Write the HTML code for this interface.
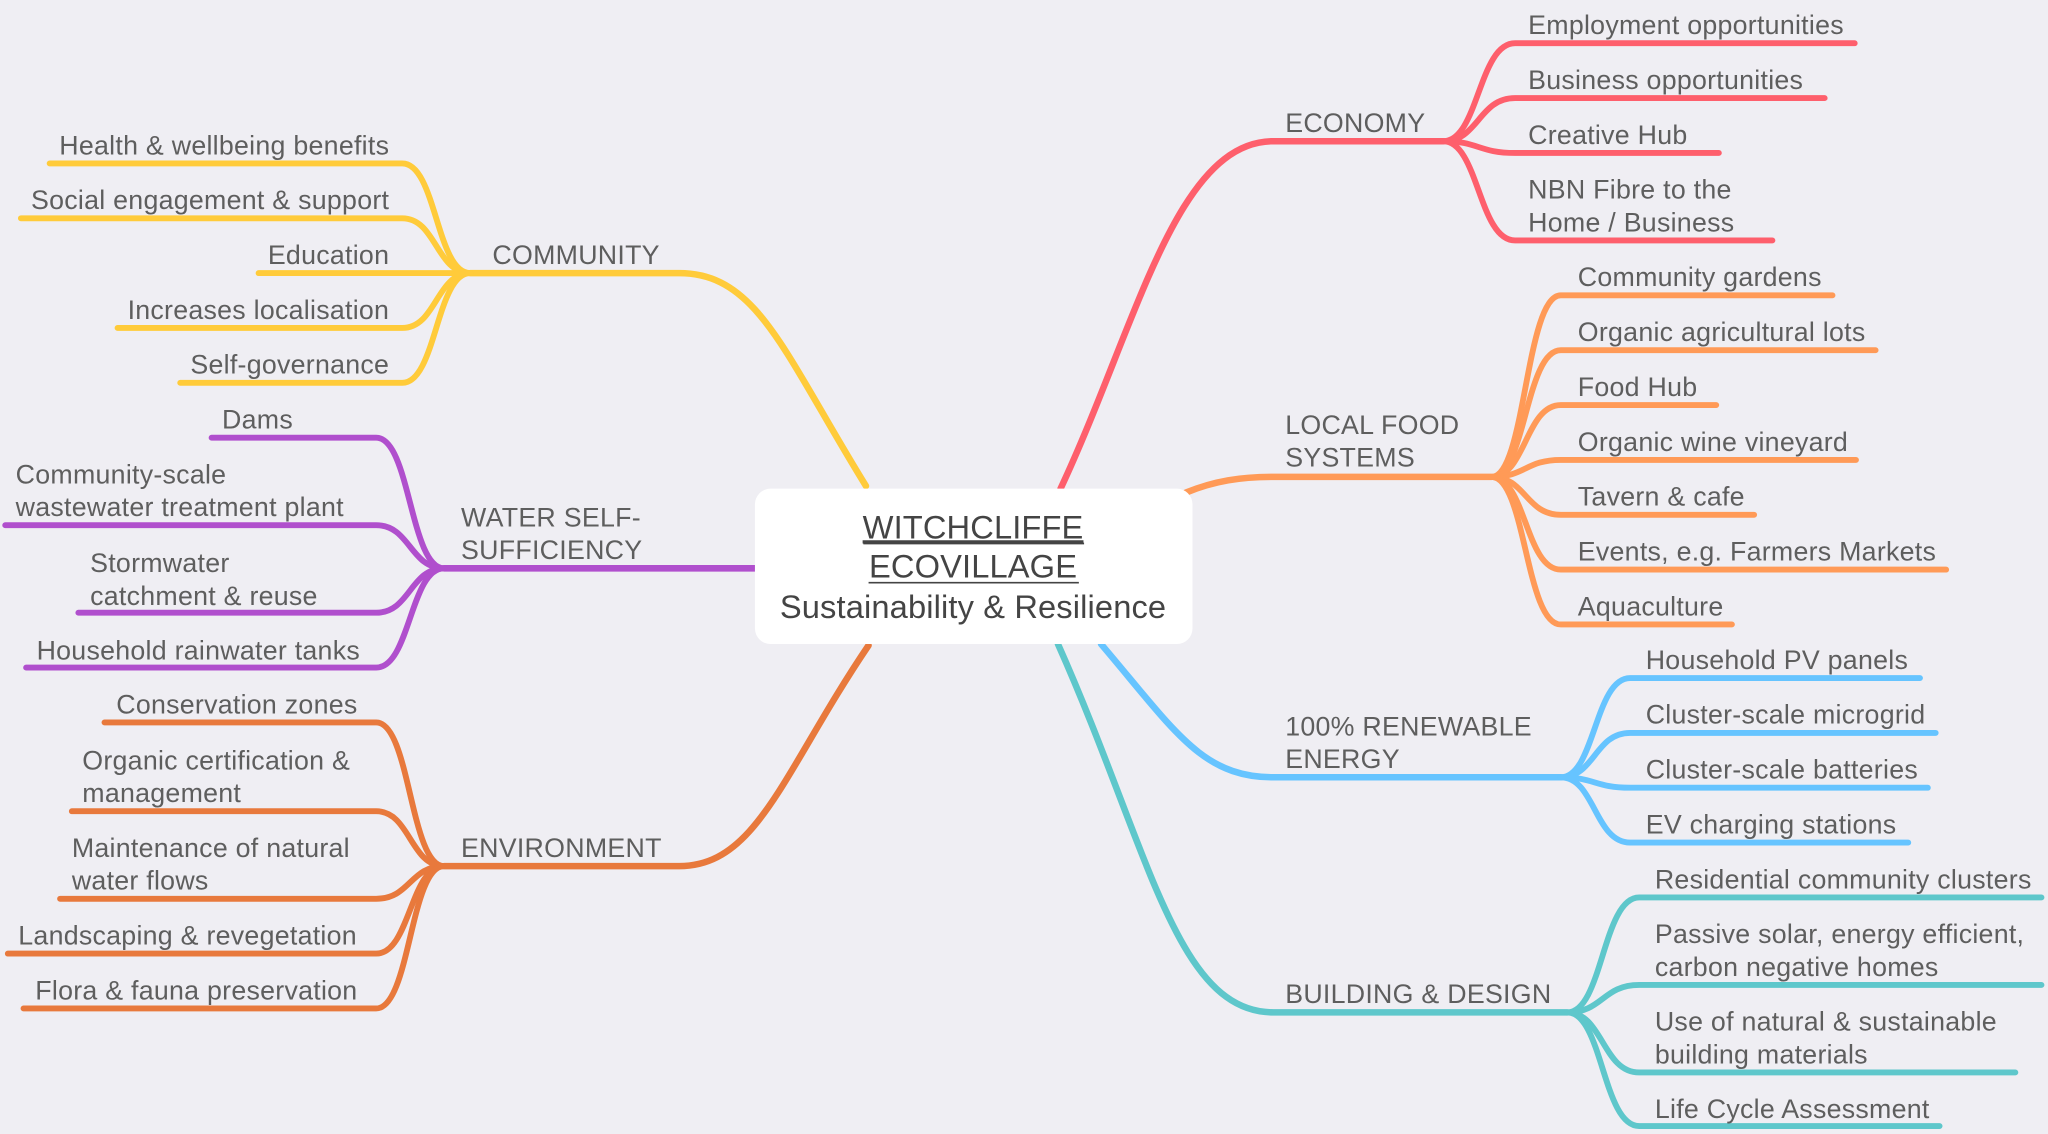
<!DOCTYPE html>
<html><head><meta charset="utf-8"><style>
html,body{margin:0;padding:0;background:#efeef3;}
svg{display:block;}
text{font-family:"Liberation Sans",Arial,sans-serif;font-size:20.5px;letter-spacing:0.2px;fill:#5e5e5e;}
.c{font-size:25px;letter-spacing:0.1px;fill:#444;}
</style></head><body>
<svg width="2048" height="1134" viewBox="0 0 1568 868" xmlns="http://www.w3.org/2000/svg">
<rect width="1568" height="868" fill="#efeef3"/>
<g fill="none" stroke-linecap="round" stroke-width="4.5">
<g stroke="#fe5f6c">
<path d="M812,374 C870,250 900,108 975,108 L1105,108" stroke-width="5"/>
<path d="M1105,108 C1132,108 1132,33 1160,33 L1420,33"/>
<path d="M1105,108 C1132,108 1132,75 1160,75 L1397,75"/>
<path d="M1105,108 C1132,108 1132,117 1160,117 L1316,117"/>
<path d="M1105,108 C1132,108 1132,184 1160,184 L1357,184"/>
</g>
<g stroke="#ff9a57">
<path d="M908,377 C930,368 950,365 975,365 L1142,365" stroke-width="5"/>
<path d="M1142,365 C1168,365 1168,226 1195,226 L1403,226"/>
<path d="M1142,365 C1168,365 1168,268 1195,268 L1436,268"/>
<path d="M1142,365 C1168,365 1168,310 1195,310 L1314,310"/>
<path d="M1142,365 C1168,365 1168,352 1195,352 L1421,352"/>
<path d="M1142,365 C1168,365 1168,394 1195,394 L1343,394"/>
<path d="M1142,365 C1168,365 1168,436 1195,436 L1490,436"/>
<path d="M1142,365 C1168,365 1168,478 1195,478 L1326,478"/>
</g>
<g stroke="#66c4ff">
<path d="M843,493 C900,560 920,595 975,595 L1195,595" stroke-width="5"/>
<path d="M1195,595 C1221,595 1221,519 1248,519 L1470,519"/>
<path d="M1195,595 C1221,595 1221,561 1248,561 L1482,561"/>
<path d="M1195,595 C1221,595 1221,603 1248,603 L1476,603"/>
<path d="M1195,595 C1221,595 1221,645 1248,645 L1461,645"/>
</g>
<g stroke="#5ec7cb">
<path d="M810,493 C880,650 900,775 975,775 L1200,775" stroke-width="5"/>
<path d="M1200,775 C1227,775 1227,687 1255,687 L1563,687"/>
<path d="M1200,775 C1227,775 1227,754 1255,754 L1563,754"/>
<path d="M1200,775 C1227,775 1227,821 1255,821 L1543,821"/>
<path d="M1200,775 C1227,775 1227,862 1255,862 L1485,862"/>
</g>
<g stroke="#ffcb3a">
<path d="M663,372 C600,270 580,209 520,209 L360,209" stroke-width="5"/>
<path d="M360,209 C334,209 334,125 308,125 L38,125"/>
<path d="M360,209 C334,209 334,167 308,167 L16,167"/>
<path d="M360,209 L198,209"/>
<path d="M360,209 C334,209 334,251 308,251 L90,251"/>
<path d="M360,209 C334,209 334,293 308,293 L138,293"/>
</g>
<g stroke="#b04fcd">
<path d="M578,435 L340,435" stroke-width="5"/>
<path d="M340,435 C314,435 314,335 288,335 L162,335"/>
<path d="M340,435 C314,435 314,402 288,402 L4,402"/>
<path d="M340,435 C314,435 314,469 288,469 L60,469"/>
<path d="M340,435 C314,435 314,511 288,511 L20,511"/>
</g>
<g stroke="#e8793c">
<path d="M665,494 C600,590 580,663 520,663 L340,663" stroke-width="5"/>
<path d="M340,663 C314,663 314,553 288,553 L80,553"/>
<path d="M340,663 C314,663 314,621 288,621 L55,621"/>
<path d="M340,663 C314,663 314,688 288,688 L46,688"/>
<path d="M340,663 C314,663 314,730 288,730 L6,730"/>
<path d="M340,663 C314,663 314,772 288,772 L18,772"/>
</g>
</g>

<rect x="578" y="374" width="335" height="119" rx="12" fill="#fff"/>
<text class="c" x="745" y="412" text-anchor="middle" text-decoration="underline">WITCHCLIFFE</text>
<line x1="661" y1="416" x2="830" y2="416" stroke="#444" stroke-width="1.3"/>
<text class="c" x="745" y="442" text-anchor="middle">ECOVILLAGE</text>
<line x1="665" y1="446" x2="826" y2="446" stroke="#444" stroke-width="1.3"/>
<text class="c" x="745" y="473" text-anchor="middle">Sustainability &amp; Resilience</text>

<text x="984" y="101">ECONOMY</text>
<text x="984" y="332">LOCAL FOOD</text><text x="984" y="357">SYSTEMS</text>
<text x="984" y="563">100% RENEWABLE</text><text x="984" y="588">ENERGY</text>
<text x="984" y="768">BUILDING &amp; DESIGN</text>
<text x="377" y="202">COMMUNITY</text>
<text x="353" y="403">WATER SELF-</text><text x="353" y="428">SUFFICIENCY</text>
<text x="353" y="656">ENVIRONMENT</text>

<text x="1170" y="26">Employment opportunities</text>
<text x="1170" y="68">Business opportunities</text>
<text x="1170" y="110">Creative Hub</text>
<text x="1170" y="152">NBN Fibre to the</text><text x="1170" y="177">Home / Business</text>
<text x="1208" y="219">Community gardens</text>
<text x="1208" y="261">Organic agricultural lots</text>
<text x="1208" y="303">Food Hub</text>
<text x="1208" y="345">Organic wine vineyard</text>
<text x="1208" y="387">Tavern &amp; cafe</text>
<text x="1208" y="429">Events, e.g. Farmers Markets</text>
<text x="1208" y="471">Aquaculture</text>
<text x="1260" y="512">Household PV panels</text>
<text x="1260" y="554">Cluster-scale microgrid</text>
<text x="1260" y="596">Cluster-scale batteries</text>
<text x="1260" y="638">EV charging stations</text>
<text x="1267" y="680">Residential community clusters</text>
<text x="1267" y="722">Passive solar, energy efficient,</text><text x="1267" y="747">carbon negative homes</text>
<text x="1267" y="789">Use of natural &amp; sustainable</text><text x="1267" y="814">building materials</text>
<text x="1267" y="856">Life Cycle Assessment</text>
<text x="298" y="118" text-anchor="end">Health &amp; wellbeing benefits</text>
<text x="298" y="160" text-anchor="end">Social engagement &amp; support</text>
<text x="298" y="202" text-anchor="end">Education</text>
<text x="298" y="244" text-anchor="end">Increases localisation</text>
<text x="298" y="286" text-anchor="end">Self-governance</text>
<text x="170" y="328">Dams</text>
<text x="12" y="370">Community-scale</text><text x="12" y="395">wastewater treatment plant</text>
<text x="69" y="438">Stormwater</text><text x="69" y="463">catchment &amp; reuse</text>
<text x="28" y="505">Household rainwater tanks</text>
<text x="89" y="546">Conservation zones</text>
<text x="63" y="589">Organic certification &amp;</text><text x="63" y="614">management</text>
<text x="55" y="656">Maintenance of natural</text><text x="55" y="681">water flows</text>
<text x="14" y="723">Landscaping &amp; revegetation</text>
<text x="27" y="765">Flora &amp; fauna preservation</text>
</svg>
</body></html>
